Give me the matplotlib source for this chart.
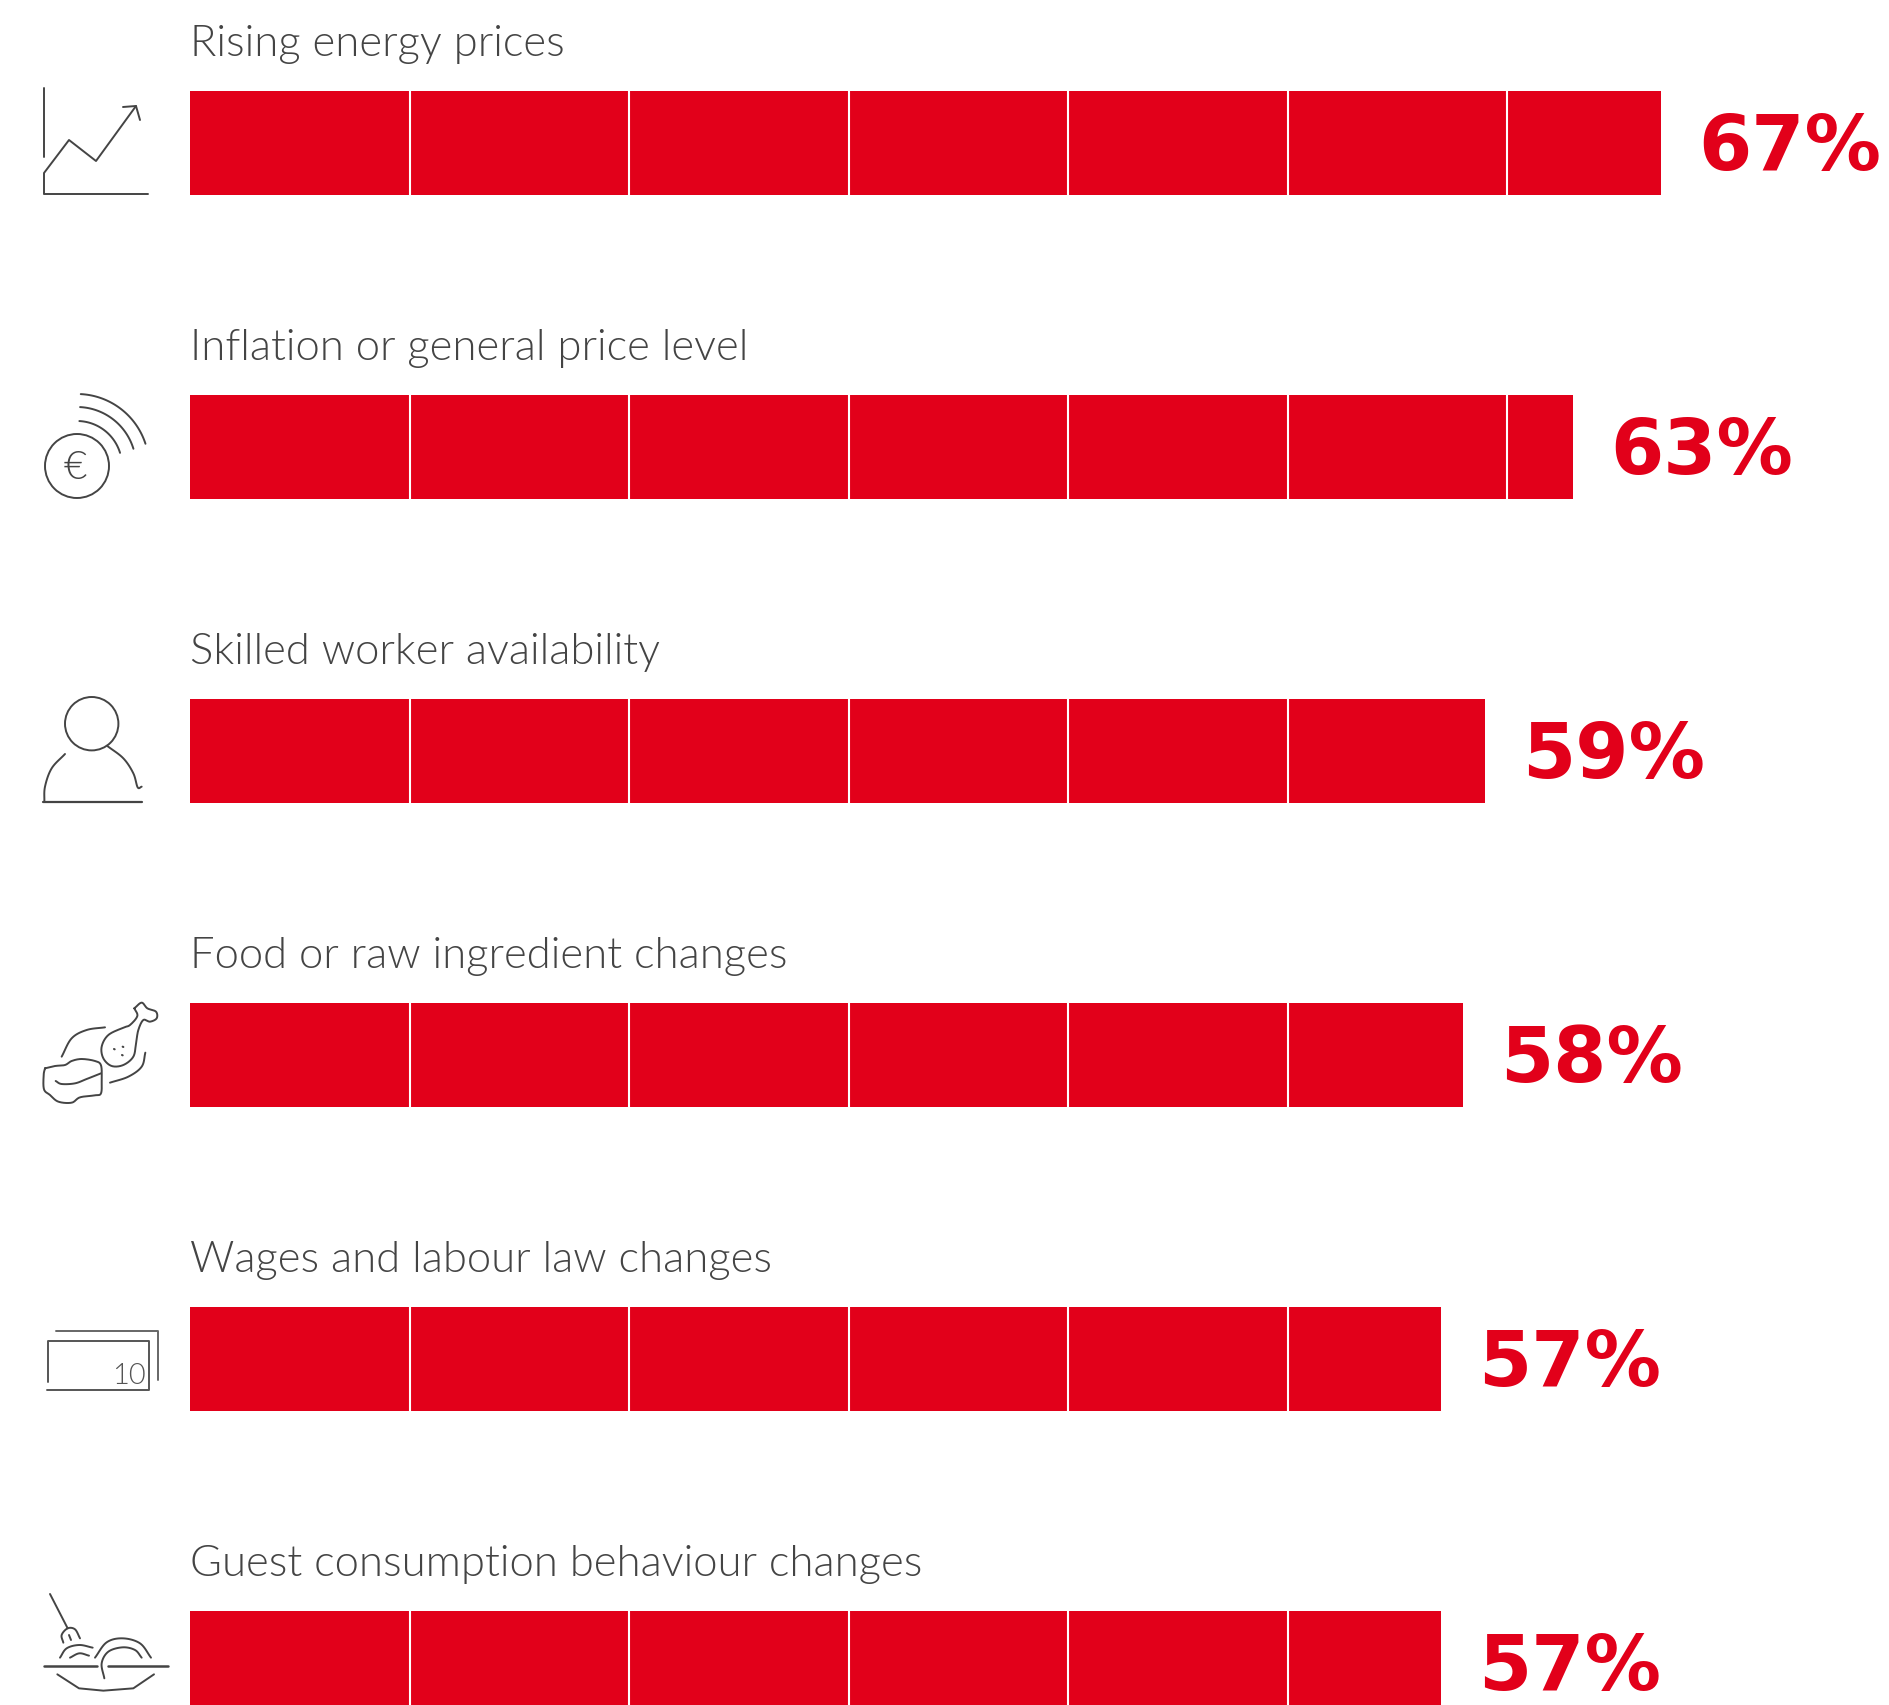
import numpy as np
import matplotlib
matplotlib.use("Agg")
import matplotlib.pyplot as plt
from matplotlib.patches import Circle

# Survey results
categories = [
    "Rising energy prices",
    "Inflation or general price level",
    "Skilled worker availability",
    "Food or raw ingredient changes",
    "Wages and labour law changes",
    "Guest consumption behaviour changes",
]
shares = [67, 63, 59, 58, 57, 57]

RED = "#E2001A"
GREY = "#444444"
W, H = 1890, 1706
PX_PER_PCT = 21.95
ROW_PX = 304
FIRST_ROW_PX = 144.3
LEFT_PX = 190.2

fig = plt.figure(figsize=(W / 100, H / 100), dpi=100, facecolor="white")

# Chart axes fill the figure: x is percent, y is row index
ax = fig.add_axes([0, 0, 1, 1])
ax.set_xlim(-LEFT_PX / PX_PER_PCT, (W - LEFT_PX) / PX_PER_PCT)
ax.set_ylim((H - FIRST_ROW_PX) / ROW_PX, -FIRST_ROW_PX / ROW_PX)
ax.axis("off")

rows = np.arange(len(categories))
bar_h = 104 / ROW_PX
ax.barh(rows, shares, height=bar_h, color=RED, linewidth=0)

for row, (name, val) in enumerate(zip(categories, shares)):
    # white divider every ten percent
    for tick in range(10, val, 10):
        ax.plot([tick, tick], [row - bar_h / 2, row + bar_h / 2],
                color="white", lw=1.5, solid_capstyle="butt")
    ax.text(0.0, row - 88.3 / ROW_PX, name, color=GREY, family="Lato",
            weight=300, fontsize=31.4, va="baseline", ha="left")
    ax.text(val + 37 / PX_PER_PCT, row + 25.4 / ROW_PX, f"{val}%", color=RED,
            family="DejaVu Sans", weight="bold", fontsize=55, va="baseline", ha="left")

# Pictogram layer, addressed in figure pixels
ic = fig.add_axes([0, 0, 1, 1])
ic.set_xlim(0, W)
ic.set_ylim(H - 1, -1)
ic.axis("off")
ic.patch.set_alpha(0)


def smooth(pts, n=12):
    """Catmull-Rom curve through the given points."""
    p = np.asarray(pts, float)
    p = np.vstack([2 * p[0] - p[1], p, 2 * p[-1] - p[-2]])
    out = []
    for i in range(1, len(p) - 2):
        for t in np.linspace(0, 1, n, endpoint=False):
            out.append(0.5 * (2 * p[i] + (p[i + 1] - p[i - 1]) * t
                              + (2 * p[i - 1] - 5 * p[i] + 4 * p[i + 1] - p[i + 2]) * t ** 2
                              + (3 * p[i] - p[i - 1] - 3 * p[i + 1] + p[i + 2]) * t ** 3))
    out.append(p[-2])
    return np.array(out)


def stroke(pts, ox=0, oy=0, s=1.0, curved=False, lw=1.4, color=GREY):
    p = np.asarray(pts, float) * s + [ox, oy]
    if curved:
        p = smooth(p)
    ic.plot(p[:, 0], p[:, 1], color=color, lw=lw, solid_capstyle="round", solid_joinstyle="round")


# rising chart
stroke([(44, 88), (44, 157)])
stroke([(44, 193.5), (44, 173), (69, 140), (96, 161), (136, 106)])
stroke([(123, 107), (136, 106), (140, 120)])
stroke([(44, 193.5), (148, 193.5)])

# euro coin with radiating arcs
ic.add_patch(Circle((77, 466), 32, fill=False, ec=GREY, lw=1.4))
ic.text(75, 467, "€", color=GREY, family="Lato", weight=300, fontsize=29, ha="center", va="center")
for radius, end in [(45, -17), (59, -17), (72, -18)]:
    ang = np.radians(np.linspace(-87, end, 40))
    stroke(np.c_[77 + radius * np.cos(ang), 466 + radius * np.sin(ang)])

# person
ic.add_patch(Circle((91.7, 723.7), 26.7, fill=False, ec=GREY, lw=1.4))
k = dict(ox=0, oy=680, s=1 / 3)
stroke([(195, 222), (155, 265), (135, 320), (133, 366)], curved=True, **k)
stroke([(322, 198), (370, 235), (400, 280), (413, 322), (425, 320)], curved=True, **k)
stroke([(130, 366), (425, 366)], lw=1.6, **k)

# drumstick and steak
stroke([(403, 985), (425, 968), (442, 985), (468, 995), (470, 1015), (450, 1025), (430, 1020),
        (415, 1050), (408, 1090), (400, 1130), (370, 1155), (335, 1158), (310, 1135), (305, 1100),
        (325, 1065), (370, 1043), (390, 1035), (412, 1008), (403, 985)], curved=True, **k)
for dot in [(342, 1107), (368, 1100), (366, 1125)]:
    stroke([dot, (dot[0] + 2, dot[1] + 1)], lw=1.5, **k)
stroke([(185, 1130), (215, 1075), (260, 1050), (315, 1042)], curved=True, **k)
stroke([(330, 1208), (385, 1190), (425, 1160), (436, 1118)], curved=True, **k)
stroke([(135, 1165), (165, 1158), (195, 1155), (215, 1143), (245, 1137), (285, 1143), (303, 1156),
        (305, 1200), (303, 1240), (285, 1246), (240, 1252), (215, 1268), (175, 1265), (150, 1245),
        (132, 1228), (131, 1185), (135, 1165)], curved=True, **k)
stroke([(167, 1203), (185, 1212), (225, 1210), (260, 1197), (303, 1180)], curved=True, **k)

# banknotes
k = dict(ox=0, oy=1280, s=1 / 3)
stroke([(168, 152), (475, 152), (475, 300)], color="#666666", **k)
stroke([(143, 305), (143, 183), (448, 183), (448, 330), (142, 330)], color="#555555", **k)
ic.text(129, 1383, "10", color="#555555", family="Lato", weight=300, fontsize=21,
        ha="center", va="baseline")

# plate of pasta
stroke([(150, 942), (203, 1045)], **k)
stroke([(190, 1088), (185, 1065), (203, 1045), (225, 1048), (240, 1075)], curved=True, **k)
stroke([(207, 1065), (213, 1080)], **k)
stroke([(180, 1133), (200, 1105), (238, 1095), (278, 1103)], curved=True, **k)
stroke([(210, 1133), (238, 1120), (267, 1127)], curved=True, **k)
stroke([(285, 1133), (320, 1087), (368, 1075), (420, 1090), (453, 1133)], curved=True, **k)
stroke([(313, 1195), (305, 1150), (325, 1115), (368, 1102), (405, 1110), (425, 1133)], curved=True, **k)
stroke([(132, 1158), (290, 1158)], lw=1.8, **k)
stroke([(325, 1158), (505, 1158)], lw=1.8, **k)
stroke([(172, 1183), (237, 1225), (310, 1232), (400, 1225), (462, 1183)], **k)

fig.savefig("out.png", dpi=100, facecolor="white")
